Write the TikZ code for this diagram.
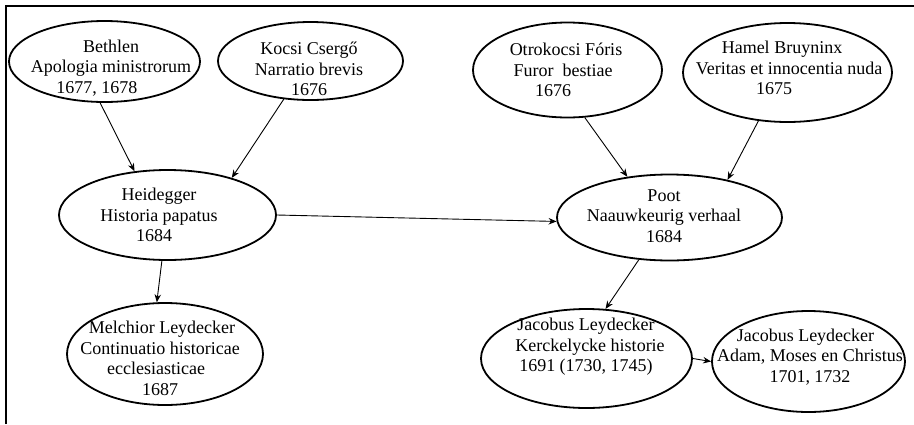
\documentclass[tikz,border=0pt]{standalone}
\usepackage{fontspec}
\setmainfont{Liberation Serif}
\usetikzlibrary{arrows.meta,shapes.geometric}
\begin{document}
\begin{tikzpicture}[x=1pt,y=-1pt,
  ell/.style={draw=black, line width=1.8pt, ellipse, inner sep=0pt},
  txt/.style={align=center, inner sep=0pt, font=\fontsize{18}{20.5}\selectfont},
  arr/.style={draw=black, line width=0.9pt, -{Stealth[length=8pt,width=6.5pt]}},
  frame/.style={line width=2.6pt}]
\useasboundingbox (0,0) rectangle (914,424);
\coordinate (fbl) at (6,424);
\coordinate (ftl) at (6,6);
\coordinate (ftr) at (914,6);
\draw[frame] (fbl) -- (ftl) -- (ftr);
% ellipses
\node[ell, minimum width=191pt, minimum height=81pt] (beth) at (104.5,61.5) {};
\node[ell, minimum width=185pt, minimum height=78pt] (kocsi) at (310.5,61) {};
\node[ell, minimum width=189pt, minimum height=95pt] (otro) at (567.5,70) {};
\node[ell, minimum width=209pt, minimum height=99pt] (hamel) at (787.5,72.5) {};
\node[ell, minimum width=217pt, minimum height=90pt] (heid) at (167.5,215) {};
\node[ell, minimum width=225pt, minimum height=86pt] (poot) at (669.5,217.5) {};
\node[ell, minimum width=196pt, minimum height=102pt] (melch) at (165,354) {};
\node[ell, minimum width=211pt, minimum height=99pt] (jk) at (586.5,358.5) {};
\node[ell, minimum width=193pt, minimum height=101pt] (ja) at (808.5,361.5) {};
% texts
\node[txt] (bethT) at (111,68) {Bethlen\\Apologia ministrorum\\\hspace*{-28pt}1677, 1678};
\node[txt] (kocsiT) at (309,69) {Kocsi Csergő\\Narratio brevis\\1676};
\node[txt] (otroT) at (566,70) {Otrokocsi Fóris\\\hspace*{-6pt}Furor\ \ bestiae\\\hspace*{-26pt}1676};
\node[txt] (hamelT) at (786,68) {\hspace*{-8pt}Hamel Bruyninx\\\hspace*{6pt}Veritas et innocentia nuda\\\hspace*{-24pt}1675};
\node[txt] (heidT) at (159,215) {Heidegger\\Historia papatus\\\hspace*{-10pt}1684};
\node[txt] (pootT) at (664,216) {Poot\\Naauwkeurig verhaal\\1684};
\node[txt] (melchT) at (160,358.5) {\hspace*{4pt}Melchior Leydecker\\Continuatio historicae\\\hspace*{-8pt}ecclesiasticae\\1687};
\node[txt] (jkT) at (586,347) {Jacobus Leydecker\\\hspace*{8pt}Kerckelycke historie\\1691 (1730, 1745)};
\node[txt] (jaT) at (810,357) {\hspace*{-9pt}Jacobus Leydecker\\Adam, Moses en Christus\\1701, 1732};
% connectors
\draw[arr] (beth.-96) -- (heid.127);
\draw[arr] (kocsi.-125) -- (heid.30);
\draw[arr] (heid.east) -- (poot.182);
\draw[arr] (heid.-97) -- (melch.99);
\draw[arr] (otro.-70) -- (poot.136);
\draw[arr] (hamel.-121) -- (poot.33);
\draw[arr] (poot.-126) -- (jk.69);
\draw[arr] (jk.east) -- (ja.west);
\end{tikzpicture}
\end{document}
